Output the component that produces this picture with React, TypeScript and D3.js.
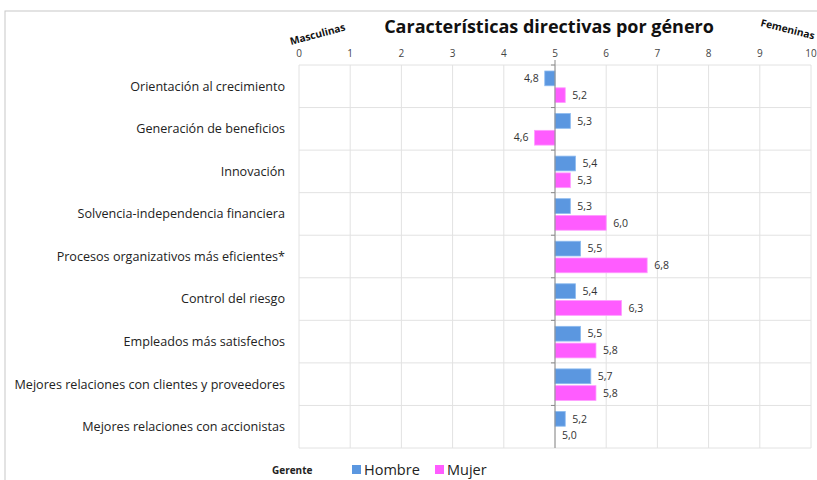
import React from 'react'
import * as d3 from 'd3'

const categories = [
  'Orientación al crecimiento',
  'Generación de beneficios',
  'Innovación',
  'Solvencia-independencia financiera',
  'Procesos organizativos más eficientes*',
  'Control del riesgo',
  'Empleados más satisfechos',
  'Mejores relaciones con clientes y proveedores',
  'Mejores relaciones con accionistas',
]
const hombre = [4.8, 5.3, 5.4, 5.3, 5.5, 5.4, 5.5, 5.7, 5.2]
const mujer = [5.2, 4.6, 5.3, 6.0, 6.8, 6.3, 5.8, 5.8, 5.0]
const ticks = [0, 1, 2, 3, 4, 5, 6, 7, 8, 9, 10]
const seriesNames = ['Hombre', 'Mujer']
const colors = ['#5b97e0', '#ff5cff']

const W = 817
const H = 480
const font = "'Open Sans', sans-serif"

export default function App() {
  const x = d3.scaleLinear().domain([0, 10]).range([299, 811])
  const y = d3.scaleBand().domain(categories).range([65, 448])
  const inner = d3.scaleBand().domain(seriesNames).range([6, y.bandwidth() - 5]).paddingInner(0.12)
  const fmt = (v: number) => d3.format('.1f')(v).replace('.', ',')
  const mid = x(5)
  const series = [hombre, mujer]

  return (
    <svg width={W} height={H} style={{ position: 'absolute', left: 0, top: 0, background: '#fff' }}>
      <rect x={5} y={11} width={W} height={H} fill="#fff" stroke="#c8c8c8" />
      {/* grid */}
      {ticks.map(t => (
        <line key={'v' + t} x1={x(t)} x2={x(t)} y1={65} y2={448} stroke="#e2e2e2" />
      ))}
      {categories.map((c, i) => (
        <line key={'h' + i} x1={x(0)} x2={x(10)} y1={y(c)!} y2={y(c)!} stroke="#e2e2e2" />
      ))}
      <line x1={x(0)} x2={x(10)} y1={448} y2={448} stroke="#e2e2e2" />
      {/* bars */}
      {series.map((vals, s) =>
        vals.map((v, i) => {
          const yy = y(categories[i])! + inner(seriesNames[s])!
          const x0 = Math.min(x(v), mid)
          const w = Math.abs(x(v) - mid)
          const right = v >= 5
          return (
            <g key={s + '-' + i}>
              <rect x={x0} y={yy} width={w} height={inner.bandwidth()} fill={colors[s]} stroke={s === 0 ? '#8dbbef' : '#ff9cff'} strokeWidth={0.8} />
              <text
                x={right ? Math.max(x(v), mid) + 7 : x(v) - 6}
                y={yy + inner.bandwidth() / 2}
                dy="0.35em"
                textAnchor={right ? 'start' : 'end'}
                fontFamily={font}
                fontSize={10.5}
                fill="#333"
              >
                {fmt(v)}
              </text>
            </g>
          )
        })
      )}
      {/* center axis */}
      <line x1={mid} x2={mid} y1={60} y2={448} stroke="#8a8a8a" />
      {categories.map((c, i) => (
        <line key={'t' + i} x1={mid - 4} x2={mid} y1={y(c)!} y2={y(c)!} stroke="#8a8a8a" />
      ))}
      {/* tick labels */}
      {ticks.map(t => (
        <text key={'l' + t} x={x(t)} y={57} textAnchor="middle" fontFamily={font} fontSize={10} fill="#444">
          {t}
        </text>
      ))}
      {/* category labels */}
      {categories.map(c => (
        <text key={c} x={285} y={y(c)! + y.bandwidth() / 2} dy="0.35em" textAnchor="end" fontFamily={font} fontSize={12.6} fill="#222">
          {c}
        </text>
      ))}
      {/* title */}
      <text x={549} y={33} textAnchor="middle" fontFamily={font} fontSize={18} fontWeight="bold" fill="#111">
        Características directivas por género
      </text>
      <text transform="translate(291,45) rotate(-15)" fontFamily={font} fontSize={10.2} fontWeight="bold" fill="#111">
        Masculinas
      </text>
      <text transform="translate(760,26) rotate(14)" fontFamily={font} fontSize={10.2} fontWeight="bold" fill="#111">
        Femeninas
      </text>
      {/* legend */}
      <text x={272} y={474} fontFamily={font} fontSize={10} fontWeight="bold" fill="#222">
        Gerente
      </text>
      {seriesNames.map((n, i) => {
        const lx = i === 0 ? 352 : 435
        return (
          <g key={n}>
            <rect x={lx} y={465} width={9} height={9} fill={colors[i]} />
            <text x={lx + 12} y={475} fontFamily={font} fontSize={14.5} fill="#222">
              {n}
            </text>
          </g>
        )
      })}
    </svg>
  )
}
